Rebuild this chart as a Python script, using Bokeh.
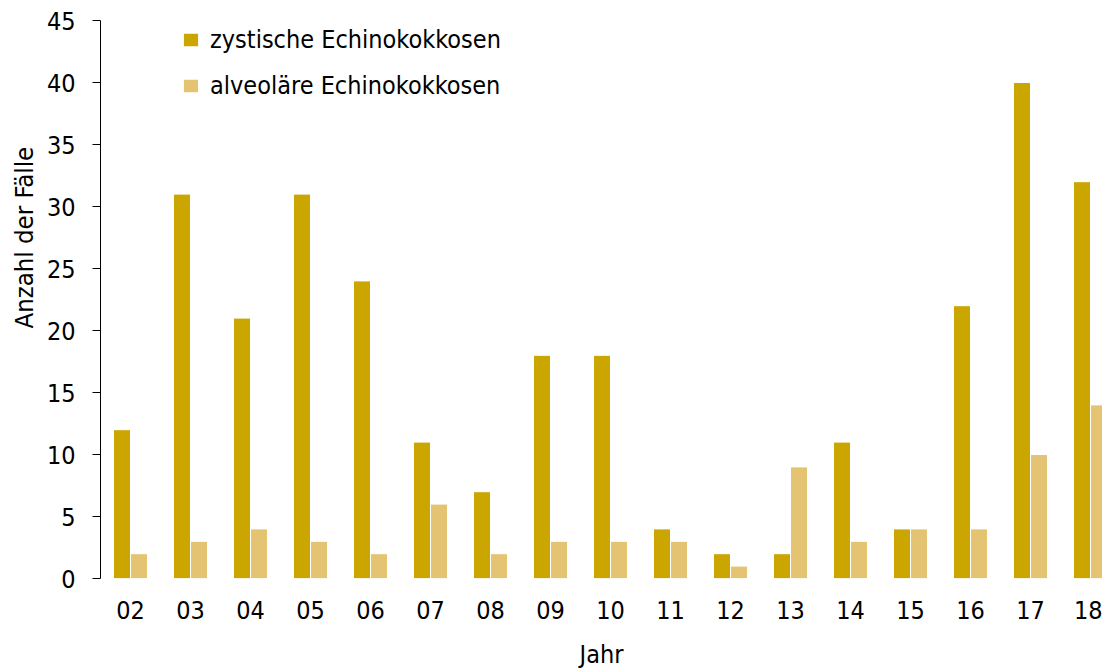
from bokeh.plotting import figure
from bokeh.models import Range1d, FixedTicker, Legend, LegendItem, Title
from bokeh.embed import file_html
from bokeh.resources import INLINE

years = ["02", "03", "04", "05", "06", "07", "08", "09", "10",
         "11", "12", "13", "14", "15", "16", "17", "18"]
zystisch = [12, 31, 21, 31, 24, 11, 7, 18, 18, 4, 2, 2, 11, 4, 22, 40, 32]
alveolaer = [2, 3, 4, 3, 2, 6, 2, 3, 3, 3, 1, 9, 3, 4, 4, 10, 14]
y_ticks = [0, 5, 10, 15, 20, 25, 30, 35, 40, 45]

FONT = "DejaVu Sans Condensed"
C_ZYST = "#CCA600"
C_ALV = "#E4C472"

pos = list(range(len(years)))
off = 8.5 / 60.0
bw = 17.0 / 60.0

p = figure(width=1102, height=672, output_backend="svg", toolbar_location=None,
           x_range=Range1d(-0.5, -0.5 + 1002 / 60.0), y_range=Range1d(0, 45),
           min_border_left=100, min_border_right=0, min_border_top=20,
           min_border_bottom=94)
p.outline_line_color = None
p.xgrid.visible = False
p.ygrid.visible = False
p.background_fill_color = "white"
p.border_fill_color = "white"

r1 = p.vbar(x=[x - off for x in pos], top=zystisch, width=bw, bottom=0,
            fill_color=C_ZYST, line_color="white", line_width=1)
r2 = p.vbar(x=[x + off for x in pos], top=alveolaer, width=bw, bottom=0,
            fill_color=C_ALV, line_color="white", line_width=1)

# y axis
ya = p.yaxis[0]
ya.ticker = FixedTicker(ticks=y_ticks)
ya.minor_tick_line_color = None
ya.major_tick_in = 0
ya.major_tick_out = 8
ya.axis_line_color = "black"
ya.major_tick_line_color = "black"
ya.major_label_standoff = 17
ya.major_label_text_font = FONT
ya.major_label_text_font_size = "25px"
ya.major_label_text_color = "black"

ylab = Title(text="Anzahl der Fälle", align="left", offset=250, standoff=10,
             text_font=FONT, text_font_size="25.5px", text_font_style="normal",
             text_color="black")
p.add_layout(ylab, "left")

# x axis
xa = p.xaxis[0]
xa.ticker = FixedTicker(ticks=pos)
xa.major_label_overrides = {i: y for i, y in zip(pos, years)}
xa.minor_tick_line_color = None
xa.major_tick_line_color = None
xa.major_tick_in = 0
xa.major_tick_out = 0
xa.axis_line_color = None
xa.major_label_standoff = 22
xa.major_label_text_font = FONT
xa.major_label_text_font_size = "25px"
xa.major_label_text_color = "black"
xa.axis_label = "Jahr"
xa.axis_label_standoff = 18
xa.axis_label_text_font = FONT
xa.axis_label_text_font_size = "25px"
xa.axis_label_text_font_style = "normal"
xa.axis_label_text_color = "black"

legend = Legend(items=[LegendItem(label="zystische Echinokokkosen", renderers=[r1]),
                       LegendItem(label="alveoläre Echinokokkosen", renderers=[r2])],
                location=(81, 478), orientation="vertical",
                glyph_width=19, glyph_height=17, label_standoff=10, spacing=17,
                padding=0, margin=0, border_line_color=None,
                background_fill_alpha=0,
                label_text_font=FONT, label_text_font_size="25px",
                label_text_color="black")
p.add_layout(legend)

open("out.html", "w").write(file_html(p, INLINE))
